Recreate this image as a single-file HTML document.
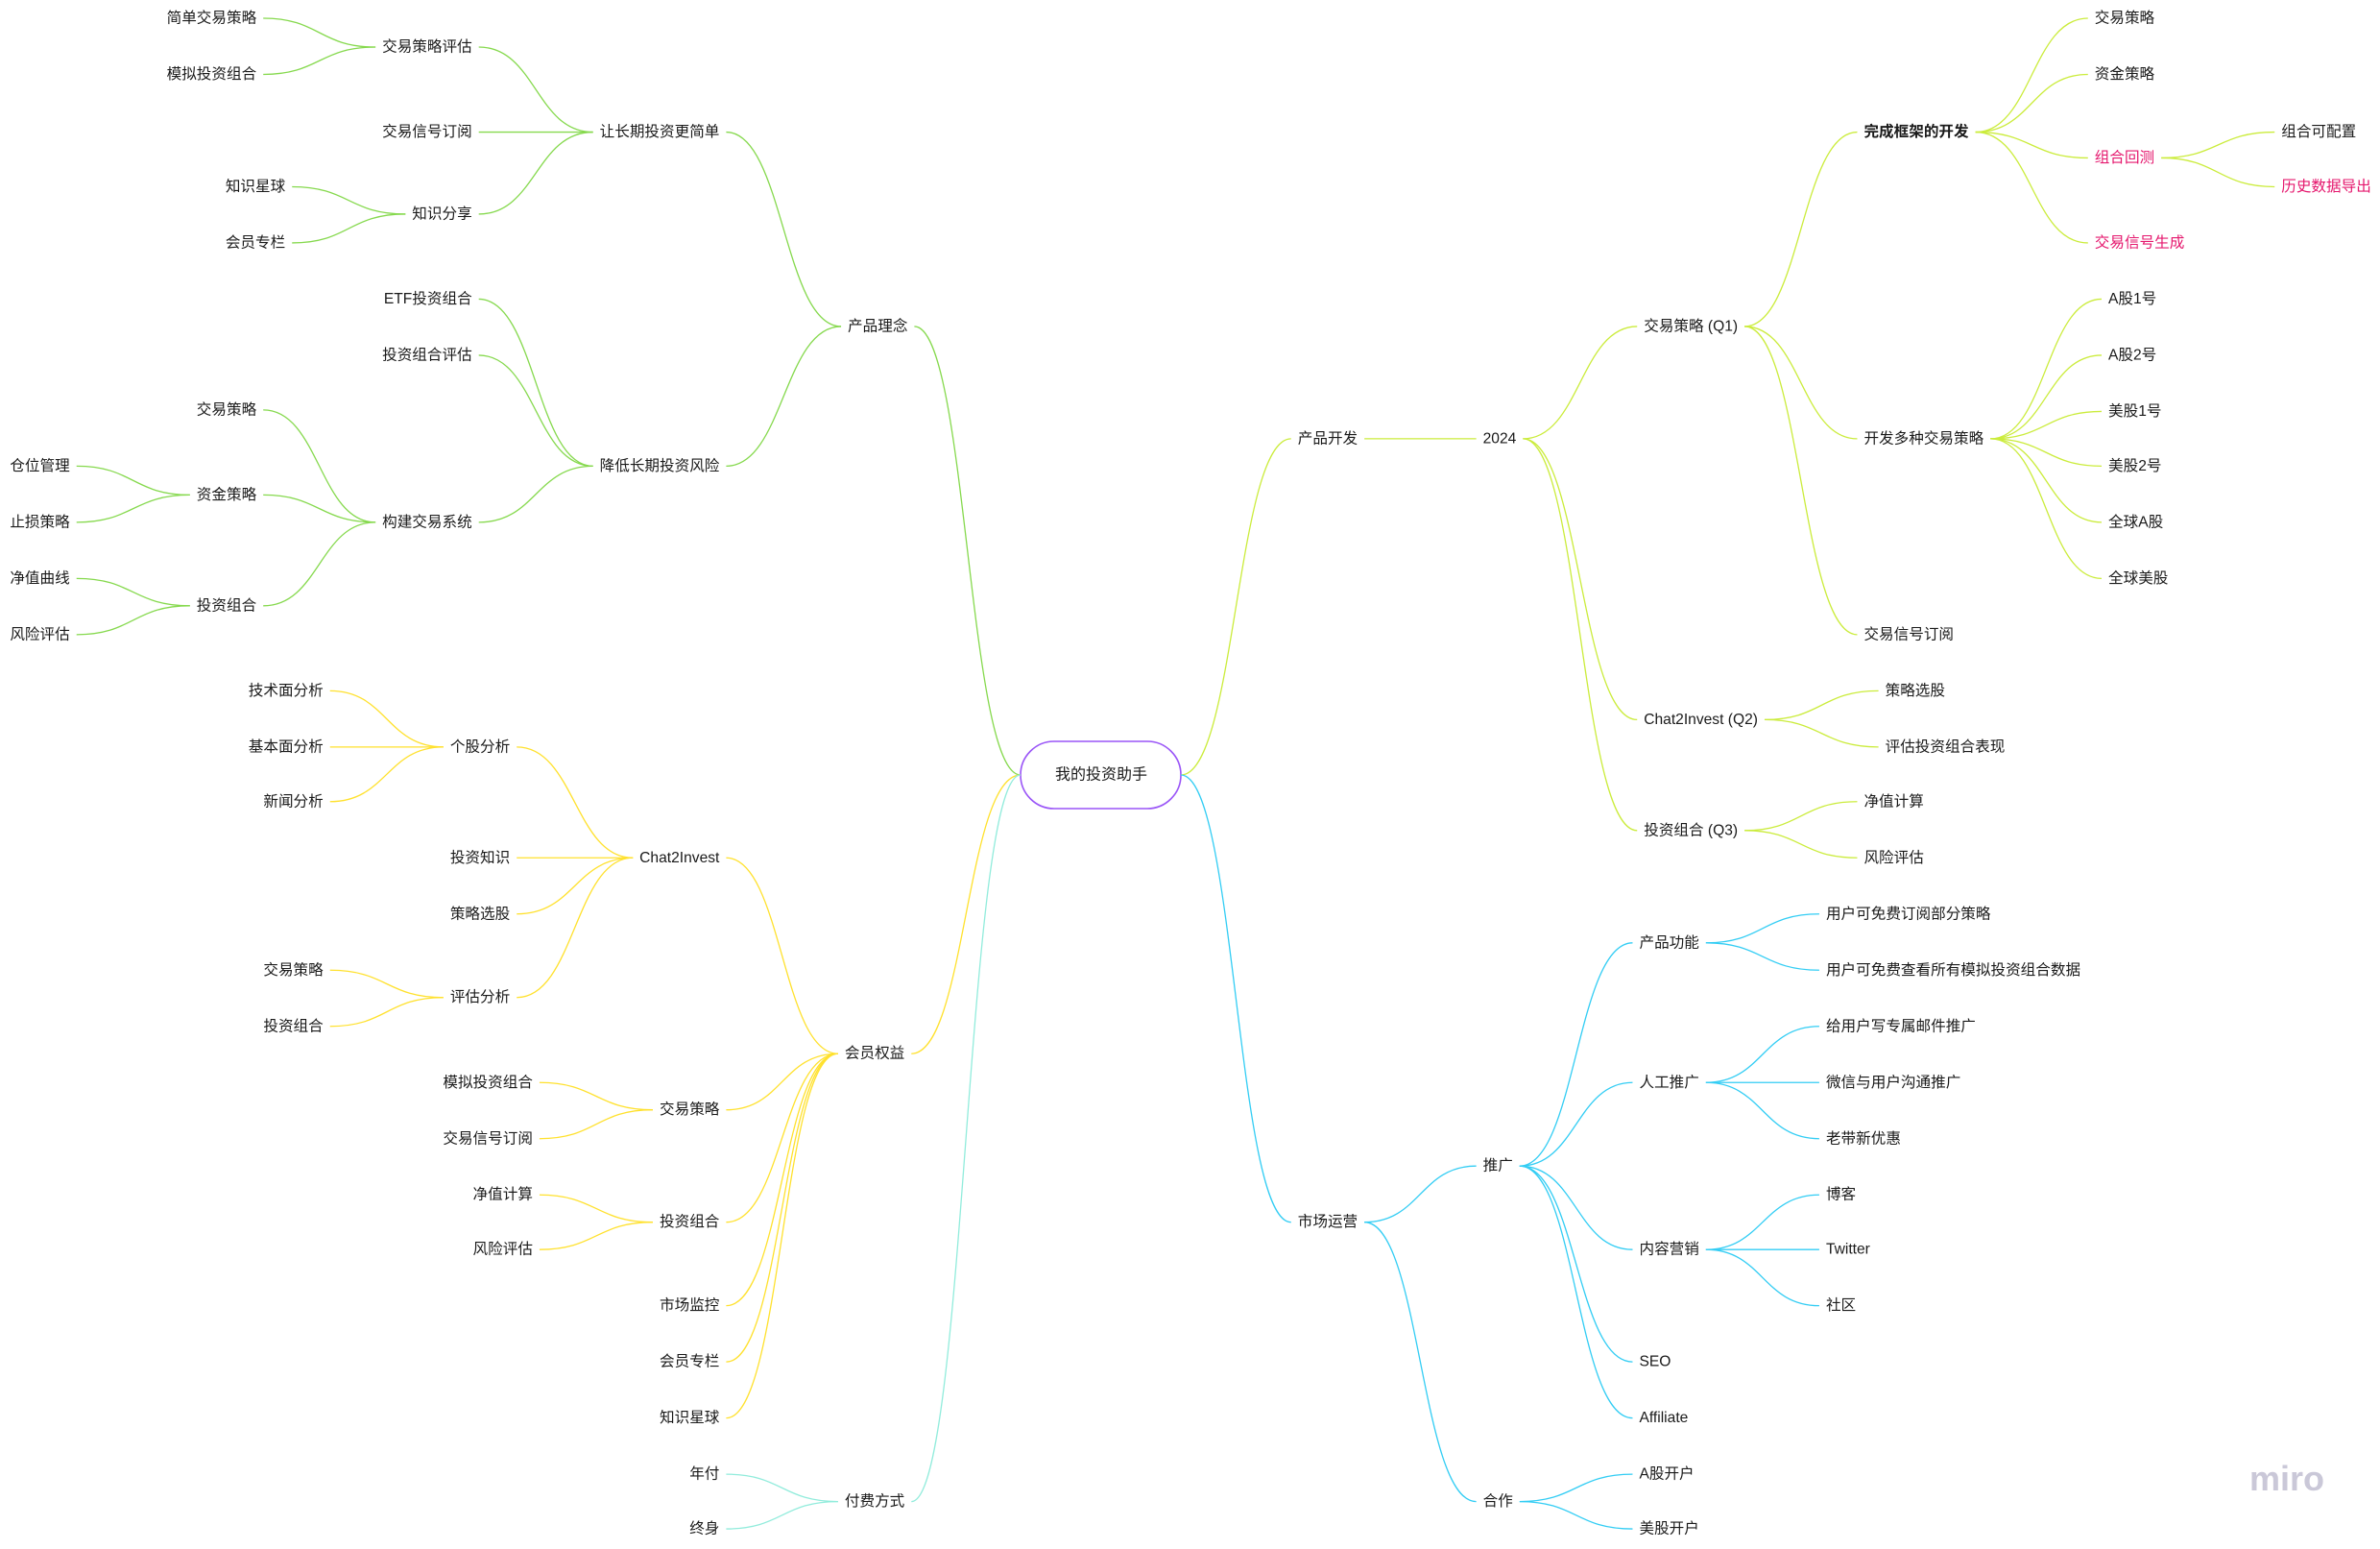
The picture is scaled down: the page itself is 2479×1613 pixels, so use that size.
<!DOCTYPE html>
<html><head><meta charset="utf-8">
<style>
html,body{margin:0;padding:0;background:#fff;}
svg{display:block;}
text{font-family:"Liberation Sans","Noto Sans CJK SC",sans-serif;font-size:15.6px;fill:#1a1a1a;dominant-baseline:central;}
</style></head>
<body>
<svg id="s" width="2479" height="1613" viewBox="0 0 2479 1613" xmlns="http://www.w3.org/2000/svg">
<rect x="1063" y="772" width="167" height="70" rx="35" ry="35" fill="#fff" stroke="#9a55f7" stroke-width="1.6"/>
<text x="1147" y="807" text-anchor="middle" style="font-size:16px">我的投资助手</text>
<text x="2343" y="1542" style="font-size:36px;fill:#cac8d8;font-weight:bold;dominant-baseline:auto" dy="10">miro</text>
<g id="lines" fill="none" stroke-width="1.3"></g>
<g id="labels"></g>
</svg>
<script>
var S=1.581;
var P='#e5186e';
var left=[
 ['产品理念',598,215,[
   ['让长期投资更简单',474,87,[
     ['交易策略评估',311,31,[['简单交易策略',169,12],['模拟投资组合',169,49]]],
     ['交易信号订阅',311,87],
     ['知识分享',311,141,[['知识星球',188,123],['会员专栏',188,160]]]
   ]],
   ['降低长期投资风险',474,307,[
     ['ETF投资组合',311,197],['投资组合评估',311,234],
     ['构建交易系统',311,344,[
       ['交易策略',169,270],
       ['资金策略',169,326,[['仓位管理',46,307],['止损策略',46,344]]],
       ['投资组合',169,399,[['净值曲线',46,381],['风险评估',46,418]]]
     ]]
   ]]
 ],{c:'#86d94e'}],
 ['会员权益',596,694,[
   ['Chat2Invest',474,565,[
     ['个股分析',336,492,[['技术面分析',213,455],['基本面分析',213,492],['新闻分析',213,528]]],
     ['投资知识',336,565],['策略选股',336,602],
     ['评估分析',336,657,[['交易策略',213,639],['投资组合',213,676]]]
   ]],
   ['交易策略',474,731,[['模拟投资组合',351,713],['交易信号订阅',351,750]]],
   ['投资组合',474,805,[['净值计算',351,787],['风险评估',351,823]]],
   ['市场监控',474,860],['会员专栏',474,897],['知识星球',474,934]
 ],{c:'#ffe12e'}],
 ['付费方式',596,989,[['年付',474,971],['终身',474,1007]],{c:'#92ecdc'}]
];
var right=[
 ['产品开发',855,289,[
   ['2024',977,289,[
     ['交易策略 (Q1)',1083,215,[
       ['完成框架的开发',1228,87,[
         ['交易策略',1380,12],['资金策略',1380,49],
         ['组合回测',1380,104,[['组合可配置',1503,87],['历史数据导出',1503,123,null,{col:P}]],{col:P}],
         ['交易信号生成',1380,160,null,{col:P}]
       ],{bold:1}],
       ['开发多种交易策略',1228,289,[['A股1号',1389,197],['A股2号',1389,234],['美股1号',1389,271],['美股2号',1389,307],['全球A股',1389,344],['全球美股',1389,381]]],
       ['交易信号订阅',1228,418]
     ]],
     ['Chat2Invest (Q2)',1083,474,[['策略选股',1242,455],['评估投资组合表现',1242,492]]],
     ['投资组合 (Q3)',1083,547,[['净值计算',1228,528],['风险评估',1228,565]]]
   ]]
 ],{c:'#cbec3c'}],
 ['市场运营',855,805,[
   ['推广',977,768,[
     ['产品功能',1080,621,[['用户可免费订阅部分策略',1203,602],['用户可免费查看所有模拟投资组合数据',1203,639]]],
     ['人工推广',1080,713,[['给用户写专属邮件推广',1203,676],['微信与用户沟通推广',1203,713],['老带新优惠',1203,750]]],
     ['内容营销',1080,823,[['博客',1203,787],['Twitter',1203,823],['社区',1203,860]]],
     ['SEO',1080,897],['Affiliate',1080,934]
   ]],
   ['合作',977,989,[['A股开户',1080,971],['美股开户',1080,1007]]]
 ],{c:'#33cdf4'}]
];
var NS='http://www.w3.org/2000/svg';
var L=document.getElementById('lines'),T=document.getElementById('labels');
var G=7;
function curve(x1,y1,x2,y2,c){
  var p=document.createElementNS(NS,'path');var m=(x1+x2)/2;
  p.setAttribute('d','M'+x1+' '+y1+' C'+m+' '+y1+' '+m+' '+y2+' '+x2+' '+y2);
  p.setAttribute('stroke',c);L.appendChild(p);
}
function draw(n,side,px,py,c){
  var o=n[4]||{};var col=o.c||c;
  var x=n[1]*S,y=n[2]*S;
  var t=document.createElementNS(NS,'text');
  t.textContent=n[0];t.setAttribute('x',x);t.setAttribute('y',y);
  if(side<0)t.setAttribute('text-anchor','end');
  if(o.col)t.style.fill=o.col;
  if(o.bold)t.style.fontWeight='bold';
  T.appendChild(t);
  var w=t.getComputedTextLength();
  var inx=side>0?x-G:x+G;
  curve(px,py,inx,y,col);
  var outx=side>0?x+w+G:x-w-G;
  (n[3]||[]).forEach(function(ch){draw(ch,side,outx,y,col);});
}
left.forEach(function(n){draw(n,-1,1063,807);});
right.forEach(function(n){draw(n,1,1230,807);});
</script>
</body></html>
